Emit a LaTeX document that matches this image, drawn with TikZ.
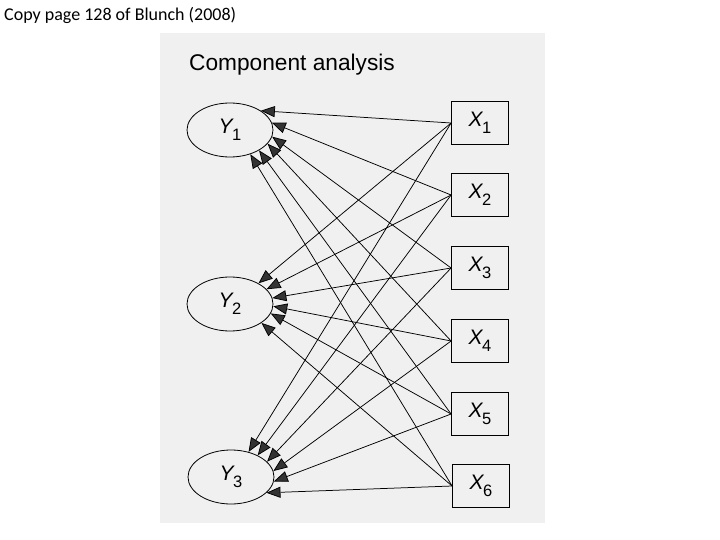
\documentclass[tikz,border=0pt]{standalone}
\usepackage{fontspec}
\setmainfont{Liberation Sans}
\newfontfamily\calib{Carlito}
\usetikzlibrary{arrows.meta,shapes.geometric}
\newcommand{\lab}[2]{{\fontsize{21}{21}\selectfont\itshape #1}\kern-0.5pt\raisebox{-7pt}{\fontsize{16.5}{16.5}\selectfont #2}}
\begin{document}
\begin{tikzpicture}[x=1pt,y=-1pt,
  lat/.style={draw,ellipse,minimum width=86pt,minimum height=54pt,inner sep=0pt,line width=0.8pt},
  man/.style={draw,rectangle,minimum width=57pt,minimum height=43pt,inner sep=0pt,line width=0.8pt},
  conn/.style={line width=0.75pt,-{Triangle[length=14pt,width=11pt,fill=black!80]}}]
\useasboundingbox (0,0) rectangle (720,540);
\fill[white] (0,0) rectangle (720,540);
\fill[black!6] (160,33) rectangle (545,523);
\node[anchor=west,inner sep=0pt] (cap) at (4,15) {\calib\fontsize{18}{18}\selectfont Copy page 128 of Blunch (2008)};
\node[anchor=west,inner sep=0pt] (title) at (189,65) {\fontsize{22.7}{22.7}\selectfont Component analysis};
\node[lat] (Y1) at (230,130) {\lab{Y}{1}};
\node[lat] (Y2) at (230,304) {\lab{Y}{2}};
\node[lat] (Y3) at (231,477) {\lab{Y}{3}};
\node[man] (X1) at (480,123) {\lab{X}{1}};
\node[man] (X2) at (480,195) {\lab{X}{2}};
\node[man] (X3) at (480,268) {\lab{X}{3}};
\node[man] (X4) at (480,341) {\lab{X}{4}};
\node[man] (X5) at (480,414) {\lab{X}{5}};
\node[man] (X6) at (481,486) {\lab{X}{6}};
\foreach \j/\a in {1/32,2/10,3/-9,4/-20,5/-35,6/-50}
  \draw[conn] (X\j.west) -- (Y1.\a);
\foreach \j/\a in {1/36,2/22,3/8,4/-3,5/-13,6/-31}
  \draw[conn] (X\j.west) -- (Y2.\a);
\foreach \j/\a in {1/55,2/39,3/23,4/8,5/-6,6/-24}
  \draw[conn] (X\j.west) -- (Y3.\a);
\end{tikzpicture}
\end{document}
